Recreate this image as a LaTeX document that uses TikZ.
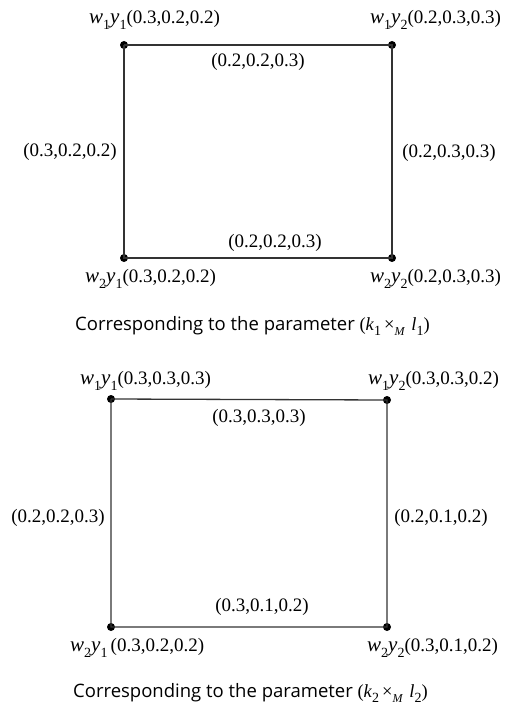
\documentclass[tikz,border=0pt]{standalone}
\usepackage{fontspec}
\setmainfont{Liberation Serif}
\newfontfamily\capfont{Open Sans}
\newcommand\sub[1]{\raisebox{-0.3em}{\fontsize{14}{14}\selectfont #1}}
\newcommand\wy[2]{{\fontsize{21}{21}\selectfont\textit{w}}\sub{#1}{\fontsize{21}{21}\selectfont\textit{y}}\sub{#2}}
\newcommand\param[2]{(\textit{k}\sub{#1}\,×\raisebox{-0.3em}{\fontsize{12}{12}\selectfont\textit{M}}\,\,\textit{l}\sub{#2})}
\begin{document}
\begin{tikzpicture}[x=1pt,y=-1pt,
  cornerdot/.style={circle,fill=black,inner sep=0pt,minimum size=8pt},
  sideline/.style={draw=black!80,line width=1.3pt},
  lab/.style={inner sep=0pt,font=\fontsize{19}{21}\selectfont},
  cornerlab/.style={lab,anchor=west},
  captext/.style={inner sep=0pt,anchor=west,font=\fontsize{18.5}{21}\selectfont}]
\useasboundingbox (0,0) rectangle (519,706);
% diagram 1
\node[cornerdot] (a1) at (124,45) {};
\node[cornerdot] (b1) at (392,45) {};
\node[cornerdot] (c1) at (124,258) {};
\node[cornerdot] (d1) at (392,258) {};
\draw[sideline] (a1.center) -- (b1.center) -- (d1.center) -- (c1.center) -- (a1.center);
\node[cornerlab] (la1) at (89,20) {\wy11(0.3,0.2,0.2)};
\node[cornerlab] (lb1) at (370,20) {\wy12(0.2,0.3,0.3)};
\node[cornerlab] (lc1) at (85,279) {\wy21(0.3,0.2,0.2)};
\node[cornerlab] (ld1) at (370,279) {\wy22(0.2,0.3,0.3)};
\node[lab] (e1t) at (258,62) {(0.2,0.2,0.3)};
\node[lab] (e1l) at (70,152) {(0.3,0.2,0.2)};
\node[lab] (e1r) at (449,153) {(0.2,0.3,0.3)};
\node[lab] (e1b) at (275,243) {(0.2,0.2,0.3)};
\node[captext] (cap1) at (75,326) {{\capfont Corresponding to the parameter} \param11};
% diagram 2
\node[cornerdot] (a2) at (111,399) {};
\node[cornerdot] (b2) at (387,400) {};
\node[cornerdot] (c2) at (111,627) {};
\node[cornerdot] (d2) at (387,627) {};
\draw[sideline] (a2.center) -- (b2.center) -- (d2.center) -- (c2.center) -- (a2.center);
\node[cornerlab] (la2) at (80,381) {\wy11(0.3,0.3,0.3)};
\node[cornerlab] (lb2) at (368,381) {\wy12(0.3,0.3,0.2)};
\node[cornerlab] (lc2) at (70,648) {\wy21\,(0.3,0.2,0.2)};
\node[cornerlab] (ld2) at (367,648) {\wy22(0.3,0.1,0.2)};
\node[lab] (e2t) at (259,418) {(0.3,0.3,0.3)};
\node[lab] (e2l) at (58,518) {(0.2,0.2,0.3)};
\node[lab] (e2r) at (441,518) {(0.2,0.1,0.2)};
\node[lab] (e2b) at (262,607) {(0.3,0.1,0.2)};
\node[captext] (cap2) at (73,693) {{\capfont Corresponding to the parameter} \param22};
\end{tikzpicture}
\end{document}
